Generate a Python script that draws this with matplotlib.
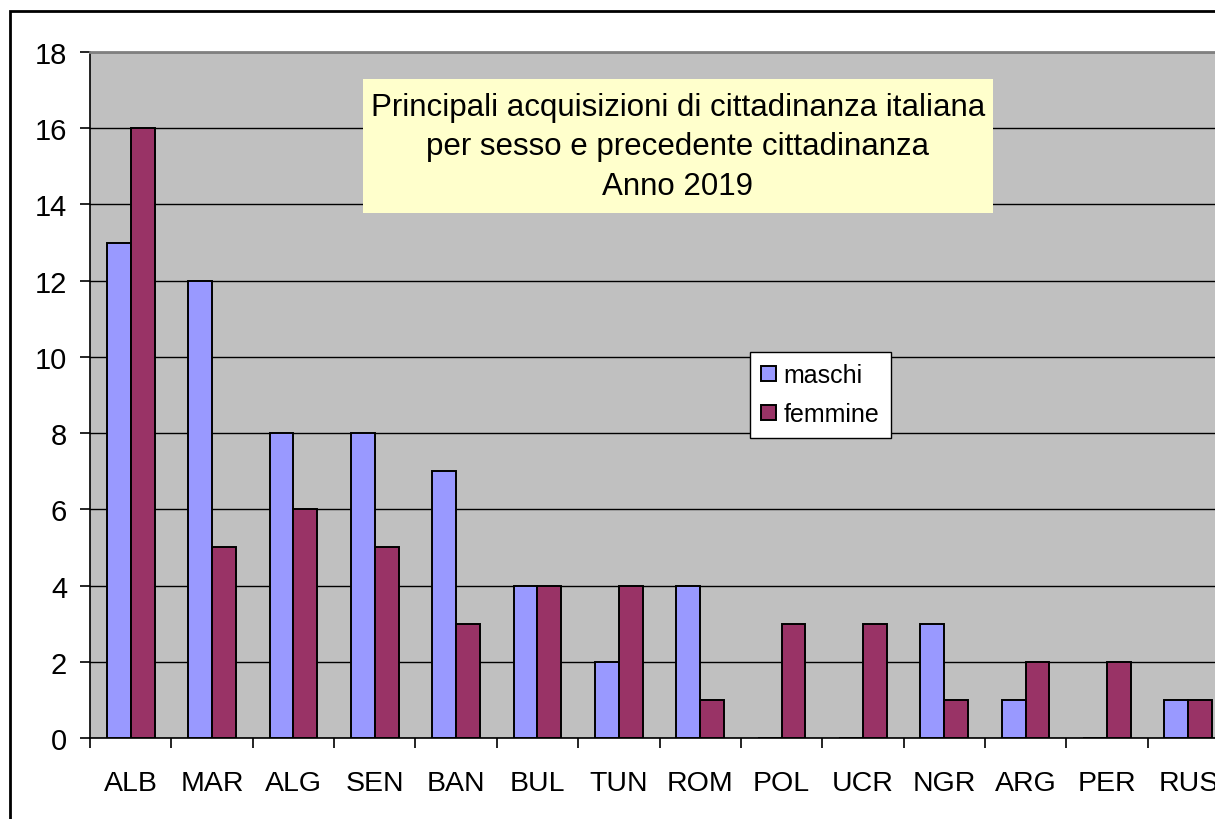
import matplotlib
matplotlib.use("Agg")
import matplotlib.pyplot as plt
from matplotlib.patches import Rectangle
import numpy as np

categories = ["ALB", "MAR", "ALG", "SEN", "BAN", "BUL", "TUN", "ROM", "POL", "UCR", "NGR", "ARG", "PER", "RUS"]
maschi = [13, 12, 8, 8, 7, 4, 2, 4, 0, 0, 3, 1, 0, 1]
femmine = [16, 5, 6, 5, 3, 4, 4, 1, 3, 3, 1, 2, 2, 1]
yticks = list(range(0, 19, 2))
title_lines = ["Principali acquisizioni di cittadinanza italiana",
               "per sesso e precedente cittadinanza",
               "Anno 2019"]

plt.rcParams['font.family'] = ['Liberation Sans', 'DejaVu Sans']

W, H = 1215, 820
fig = plt.figure(figsize=(W / 100, H / 100), dpi=100)
fig.patch.set_facecolor('white')

# outer frame (extends beyond the image on right/bottom)
fig.patches.append(Rectangle((10 / W, -0.1), 1.2, (H - 12) / H + 0.1,
                             transform=fig.transFigure, fill=False,
                             edgecolor='black', linewidth=2, zorder=0))

left, top, bottom = 90, 53, 739
ax = fig.add_axes([left / W, (H - bottom) / H, (1229 - left) / W, (bottom - top) / H])
ax.set_facecolor('#C0C0C0')

x = np.arange(len(categories))
w = 0.293
ax.bar(x - w / 2, maschi, width=w, color='#9999FF', edgecolor='black', linewidth=1.4,
       label='maschi', zorder=3)
ax.bar(x + w / 2, femmine, width=w, color='#993366', edgecolor='black', linewidth=1.4,
       label='femmine', zorder=3)

ax.set_xlim(-0.5, len(categories) - 0.5)
ax.set_ylim(0, 18)
ax.set_yticks(yticks)
ax.yaxis.grid(True, color='black', linewidth=1.0, zorder=1)
ax.set_axisbelow(True)

ax.set_xticks(x)
ax.set_xticklabels(categories, fontsize=20.5)
ax.set_xticks(np.arange(len(categories) + 1) - 0.5, minor=True)
ax.tick_params(axis='x', which='major', length=0, pad=23)
ax.tick_params(axis='x', which='minor', length=7.5, width=1.2, direction='out', color='black')
ax.tick_params(axis='y', length=7.5, width=1.2, direction='out', labelsize=21, pad=9)

ax.spines['right'].set_visible(False)
ax.spines['top'].set_color('#808080')
ax.spines['top'].set_linewidth(2)
ax.spines['left'].set_linewidth(1.2)
ax.spines['bottom'].set_linewidth(1.2)

# title box
tb_x0, tb_x1, tb_y0, tb_y1 = 363, 993, 80, 214
fig.patches.append(Rectangle((tb_x0 / W, (H - tb_y1) / H), (tb_x1 - tb_x0) / W, (tb_y1 - tb_y0) / H,
                             transform=fig.transFigure, facecolor='#FFFFCC', edgecolor='none', zorder=5))
for i, line in enumerate(title_lines):
    fig.text(678 / W, (H - (108 + 39.5 * i)) / H, line, ha='center', va='center',
             fontsize=22.5, zorder=6)

leg = ax.legend(loc='upper left', bbox_to_anchor=((750 - left) / (1229 - left), (bottom - 353) / (bottom - top)),
                fontsize=18, frameon=True, fancybox=False, edgecolor='black', framealpha=1,
                handlelength=0.6, handleheight=0.6, handletextpad=0.3, labelspacing=0.6,
                borderpad=0.45, borderaxespad=0)
leg.get_frame().set_linewidth(1.0)
leg.set_zorder(10)

fig.savefig('out.png', dpi=100)
